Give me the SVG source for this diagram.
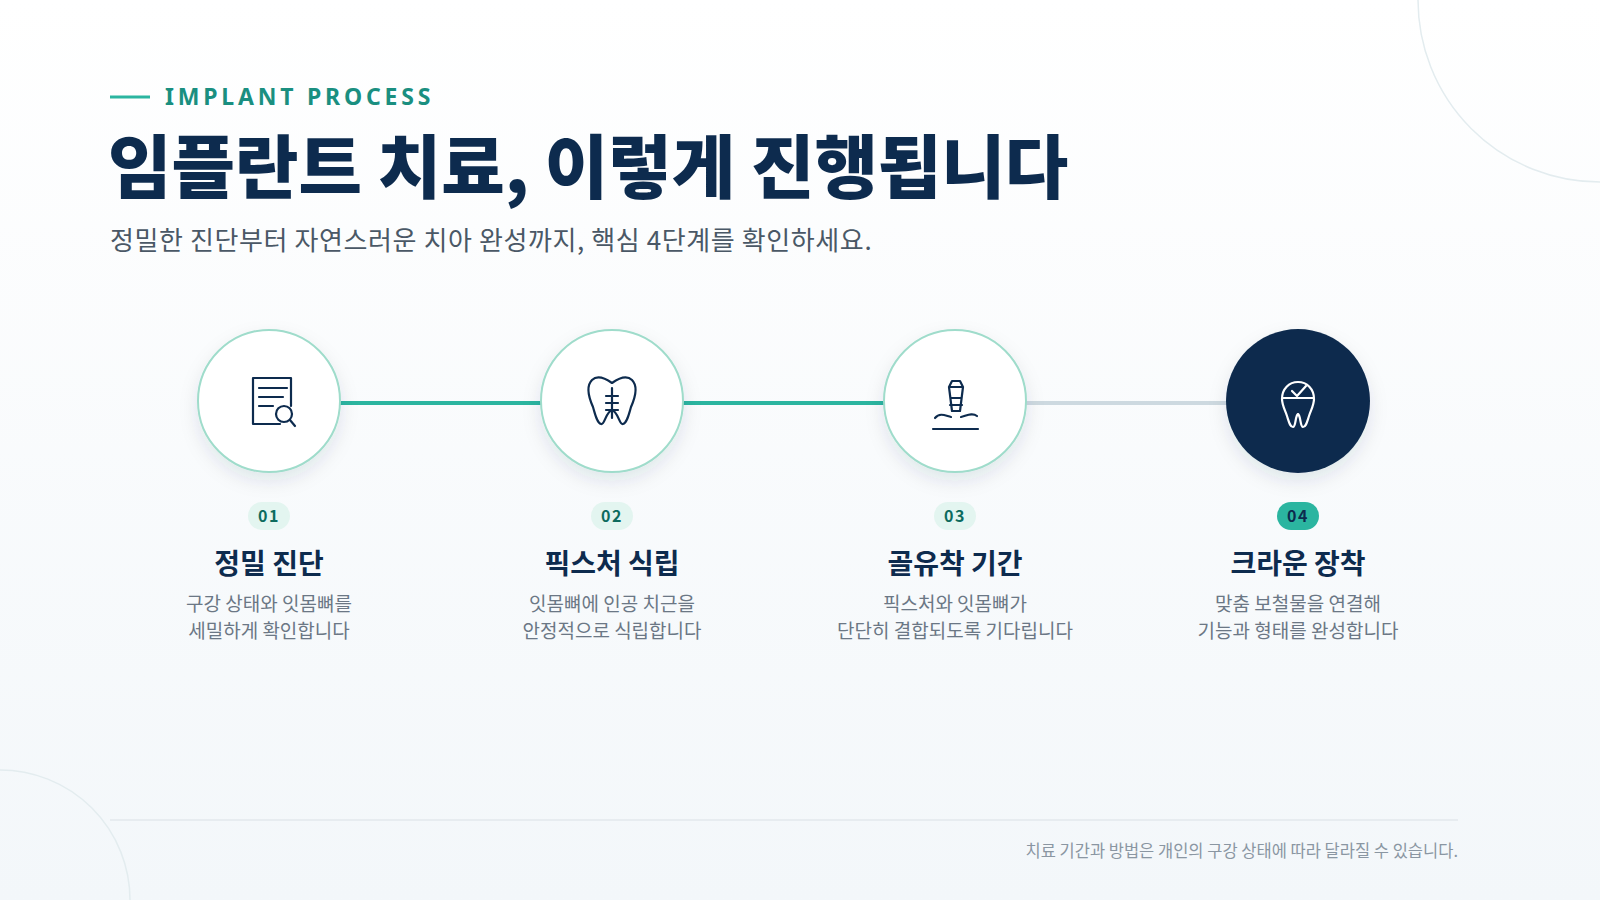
<svg xmlns="http://www.w3.org/2000/svg" width="1600" height="900" viewBox="0 0 1600 900">
<defs>
<linearGradient id="bg" x1="0" y1="0" x2="0" y2="1"><stop offset="0" stop-color="#ffffff"/><stop offset="1" stop-color="#f3f7fa"/></linearGradient>
<filter id="sh" x="-30%" y="-30%" width="160%" height="170%"><feDropShadow dx="0" dy="8" stdDeviation="9" flood-color="#0b2a4a" flood-opacity="0.10"/></filter>
<style>
text{font-family:"Noto Sans CJK KR","Noto Sans",sans-serif}
.c{fill:#fff;stroke:#9fdccb;stroke-width:2}
.ic{fill:none;stroke:#0d2b4e;stroke-width:2.2;stroke-linecap:round;stroke-linejoin:round}
.ticw{fill:none;stroke:#fff;stroke-width:2.2;stroke-linecap:round;stroke-linejoin:round}
.num{font-size:16px;font-weight:700;text-anchor:middle;fill:#0d6b5e;letter-spacing:1.5px}
.t{font-size:28px;font-weight:700;text-anchor:middle;fill:#0d2b4e}
.d{font-size:19px;text-anchor:middle;fill:#6b7785}
</style>
</defs>
<rect width="1600" height="900" fill="url(#bg)"/>
<circle cx="1600" cy="0" r="182" fill="none" stroke="#e3ecef" stroke-width="1.5"/>
<circle cx="0" cy="900" r="130" fill="none" stroke="#e3ecef" stroke-width="1.5"/>
<line x1="110" y1="97" x2="150" y2="97" stroke="#2bb5a0" stroke-width="3"/>
<text x="165" y="105" font-size="23" font-weight="700" fill="#1a8f80" letter-spacing="3.8" style="font-family:'Noto Sans',sans-serif">IMPLANT PROCESS</text>
<text x="108" y="193" font-size="69" font-weight="900" fill="#0d2b4e">임플란트 치료, 이렇게 진행됩니다</text>
<text x="110" y="250" font-size="26" fill="#4a5866" letter-spacing="0.6">정밀한 진단부터 자연스러운 치아 완성까지, 핵심 4단계를 확인하세요.</text>
<g id="connectors">
<line x1="340" y1="403" x2="541" y2="403" stroke="#2bb5a0" stroke-width="4"/>
<line x1="683" y1="403" x2="884" y2="403" stroke="#2bb5a0" stroke-width="4"/>
<line x1="1026" y1="403" x2="1227" y2="403" stroke="#cdd9e0" stroke-width="4"/>
</g>
<g id="step1">
<circle class="c" cx="269" cy="401" r="71" filter="url(#sh)"/>
<path class="ic" d="M280 424H253V378H291V406M259 388H287M259 397H283M259 406H273"/>
<circle class="ic" cx="284" cy="414" r="8"/><line class="ic" x1="290" y1="420" x2="295" y2="426"/>
<rect x="248" y="502" width="42" height="28" rx="14" fill="#e3f5f0"/>
<text class="num" x="269" y="522">01</text>
<text class="t" x="269" y="574">정밀 진단</text>
<text class="d" x="269" y="611">구강 상태와 잇몸뼈를</text>
<text class="d" x="269" y="638">세밀하게 확인합니다</text>
</g>
<g id="step2">
<circle class="c" cx="612" cy="401" r="71" filter="url(#sh)"/>
<path class="ic" d="M612 383C605 378 597 375 592 380C586 386 589 398 593 407C595 414 597 423 601 424C605 425 605 413 612 410C619 413 619 425 623 424C627 423 629 414 631 407C635 398 638 386 632 380C627 375 619 378 612 383Z"/>
<path class="ic" d="M612 388V418M606 396H618M606 403H618M606 410H618"/>
<rect x="591" y="502" width="42" height="28" rx="14" fill="#e3f5f0"/>
<text class="num" x="612" y="522">02</text>
<text class="t" x="612" y="574">픽스처 식립</text>
<text class="d" x="612" y="611">잇몸뼈에 인공 치근을</text>
<text class="d" x="612" y="638">안정적으로 식립합니다</text>
</g>
<g id="step3">
<circle class="c" cx="955" cy="401" r="71" filter="url(#sh)"/>
<path class="ic" d="M949 387L952 381H960L963 387L960 411H952Z M949 387H963M951 398H961M950 405H962"/>
<path class="ic" d="M935 418C940 412 946 416 951 417M961 417C966 416 972 412 977 416"/>
<line class="ic" x1="933" y1="429" x2="978" y2="429"/>
<rect x="934" y="502" width="42" height="28" rx="14" fill="#e3f5f0"/>
<text class="num" x="955" y="522">03</text>
<text class="t" x="955" y="574">골유착 기간</text>
<text class="d" x="955" y="611">픽스처와 잇몸뼈가</text>
<text class="d" x="955" y="638">단단히 결합되도록 기다립니다</text>
</g>
<g id="step4">
<circle cx="1298" cy="401" r="72" fill="#0d2b4e" filter="url(#sh)"/>
<path class="ticw" d="M1298 382C1289 382 1282 389 1282 399C1282 405 1285 410 1287 416C1289 422 1290 427 1293 427C1296 427 1295 416 1298 414C1301 416 1300 427 1303 427C1306 427 1307 422 1309 416C1311 410 1314 405 1314 399C1314 389 1307 382 1298 382Z"/>
<path class="ticw" d="M1283 398H1313M1292 391L1297 396L1306 386"/>
<rect x="1277" y="502" width="42" height="28" rx="14" fill="#2bb5a0"/>
<text class="num" x="1298" y="522" style="fill:#0d2b4e">04</text>
<text class="t" x="1298" y="574">크라운 장착</text>
<text class="d" x="1298" y="611">맞춤 보철물을 연결해</text>
<text class="d" x="1298" y="638">기능과 형태를 완성합니다</text>
</g>
<line x1="110" y1="820" x2="1458" y2="820" stroke="#e3e9ed" stroke-width="1.5"/>
<text x="1458" y="857" font-size="16.5" fill="#8a96a2" text-anchor="end">치료 기간과 방법은 개인의 구강 상태에 따라 달라질 수 있습니다.</text>
</svg>
